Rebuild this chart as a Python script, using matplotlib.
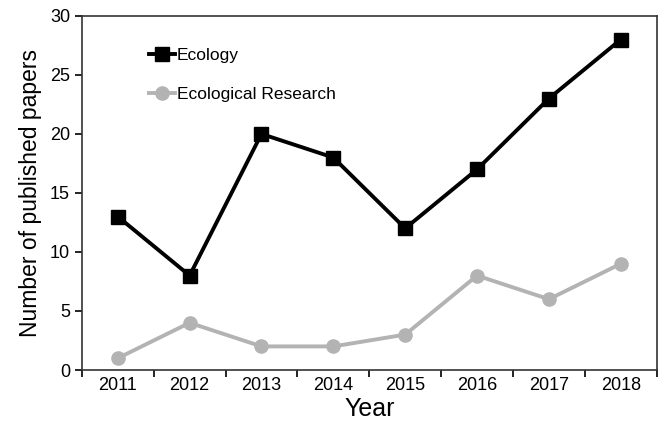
import numpy as np
import matplotlib.pyplot as plt
from matplotlib.ticker import FixedLocator

plt.rcParams['font.family'] = ['Liberation Sans', 'DejaVu Sans']

# ---------------- DATA ----------------
years = ["2011", "2012", "2013", "2014", "2015", "2016", "2017", "2018"]
ecology = [13, 8, 20, 18, 12, 17, 23, 28]
eco_research = [1, 4, 2, 2, 3, 8, 6, 9]

# ---------------- FIGURE ----------------
fig = plt.figure(figsize=(6.6, 4.3), dpi=100)
ax = fig.add_axes([0.124, 0.1395, 0.871, 0.8235])

x = np.arange(len(years))
ax.plot(x, ecology, color="black", lw=2.8, marker="s", ms=10, label="Ecology")
ax.plot(x, eco_research, color="#b3b3b3", lw=2.8, marker="o", ms=9.5,
        label="Ecological Research")

ax.set_xlim(-0.5, len(years) - 0.5)
ax.set_ylim(0, 30)
ax.set_yticks(range(0, 31, 5))
ax.set_xticks(x)
ax.set_xticklabels(years)
ax.xaxis.set_minor_locator(FixedLocator(np.arange(-0.5, len(years), 1.0)))
ax.tick_params(axis="x", which="major", length=0, labelsize=13, pad=5)
ax.tick_params(axis="x", which="minor", length=5, width=1.2, direction="out")
ax.tick_params(axis="y", length=5, width=1.2, direction="out", labelsize=13)

for s in ax.spines.values():
    s.set_linewidth(1.2)
    s.set_color("#333333")

ax.set_xlabel("Year", fontsize=18, labelpad=2)
ax.set_ylabel("Number of published papers", fontsize=16.5, labelpad=6)

ax.legend(loc="upper left", bbox_to_anchor=(0.09, 0.955), frameon=False,
          fontsize=12.5, handlelength=1.5, handletextpad=0.1, labelspacing=1.4)

fig.savefig("out.png", dpi=100)
